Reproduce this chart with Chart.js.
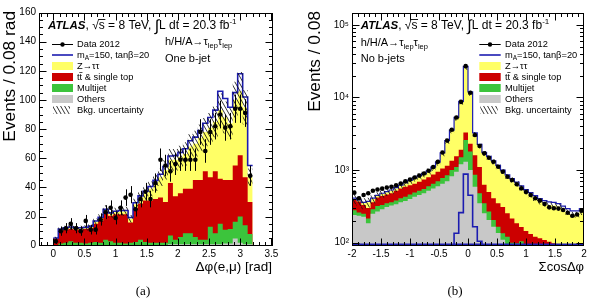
<!DOCTYPE html>
<html><head><meta charset="utf-8">
<script src="https://cdn.jsdelivr.net/npm/chart.js@4.4.0/dist/chart.umd.min.js"></script>
<style>
html,body{margin:0;padding:0;background:#fff;}
#wrap{position:relative;width:591px;height:299px;overflow:hidden;background:#fff;}
.pane{position:absolute;top:0;height:299px;}
#pa{left:0;width:295px;}
#pb{left:295px;width:296px;}
</style></head><body>
<div id="wrap">
<div class="pane" id="pa"><canvas id="ca"></canvas></div>
<div class="pane" id="pb"><canvas id="cb"></canvas></div>
</div>
<script>
// ================= Panel (a): delta-phi(e,mu), one b-jet =================
const binLoA = 0, binWA = 0.08;
const dataA     = [3,10,12,15,12,10,17,11,11,18,23,26,19,26,33,35,25,32,37,32,43,59,55,51,56,59,59,59,59,78,65,78,82,90,81,82,94,94,91,48];
const errA      = [1.7,3.2,3.5,3.9,3.5,3.2,4.1,3.3,3.3,4.2,4.8,5.1,4.4,5.1,5.7,5.9,5.0,5.7,6.1,5.7,6.6,7.7,7.4,7.1,7.5,7.7,7.7,7.7,7.7,8.8,8.1,8.8,9.1,9.5,9.0,9.1,9.7,9.7,9.5,6.9];
// cumulative stack tops (Others < Multijet < ttbar < Z->tautau)
const zttTopA   = [5.3,11.2,12,12.5,11.8,12,12.3,13,16.5,19,24.5,22,23,23.5,23.5,18.5,28.5,33,36,39,43,47,52,59,59,61,63,68,70,74,78,81,85,93,88,84,100,106,95,47];
const ttbarTopA = [5,10.5,11,11.5,11,11,11.5,12,15,17,23,20.5,21.5,21.5,21.5,16,26,29,31,31,32,33,30,43,34,36,39,39,45,45,51,47,51,46,45,45,55,62,47,30];
const mjTopA    = [0.5,1.5,2,3,2,2,1.5,2,2.5,2,4,3,2,2,1.5,2,2.5,4,2.5,2,2,2,2,7,4,6,8.5,8.5,6,4,4,13,8.5,15,11,11.5,16.5,20,14,8];
const othTopA   = [0,0.5,0.5,0.5,0.5,0.5,0.5,0.5,0.5,0.5,0.5,0.5,0.5,0.5,0.5,0.5,0.5,0.5,0.5,0.5,0.5,0.5,0.5,1,1,1,1,1,1,1,1,1,1,1,1.5,1.5,5,2,1,1];
const signalA   = [0,0.2,0.3,0.3,0.3,0.3,0.3,0.4,0.4,0.5,0.5,0.5,0.6,0.6,0.7,0.8,1,1.2,1.4,1.6,1.8,2,2.3,2.5,2.8,3,3.5,4,4.5,5,6,7,8,13,13,11,5,12,7,8];
const uncA      = [0.8,1.6,1.7,1.8,1.7,1.7,1.8,1.8,2.2,2.6,3.3,2.9,3.1,3.2,3.2,2.6,3.7,4.3,4.7,5.0,5.5,6.0,6.6,7.4,7.4,7.6,7.9,8.5,8.8,9.2,9.7,10.1,10.6,11.5,11,10.5,12.5,13.2,11.8,6];
const xTicksA = [0,0.5,1,1.5,2,2.5,3,3.5];
const yTicksA = [0,20,40,60,80,100,120,140,160];

// ================= Panel (b): sum cos delta-phi, no b-jets =================
const binLoB = -2, binWB = 0.08;
const dataB     = [489,409,454,480,520,540,555,575,590,620,655,700,740,790,840,900,980,1100,1300,1750,2550,3600,5300,8700,27000,11600,3040,2150,1700,1480,1306,1114,951,811,731,640,561,500,454,409,380,341,307,298,295,282,259,235,245,275];
const zttTopB   = [400,380,350,360,400,440,470,495,520,560,610,660,710,770,820,880,960,1080,1270,1700,2500,3500,5200,8600,26000,11500,3100,2150,1700,1500,1300,1120,960,820,730,650,570,505,455,410,370,345,330,325,315,290,265,245,245,265];
const ttbarTopB = [390,370,330,300,360,420,440,460,480,520,560,590,620,650,690,740,800,870,950,1050,1150,1350,1550,1900,3300,2300,1600,1100,630,500,410,350,310,255,215,185,165,145,132,121,115,109,103,98,95,93,91,89,88,86];
const mjTopB    = [280,260,250,215,290,320,330,350,360,380,410,430,460,490,520,550,600,650,700,780,850,1000,1100,1500,2600,1800,860,480,350,270,205,166,135,121,100,98,105,95,80,80,80,80,80,80,80,80,80,80,80,80];
const othTopB   = [240,235,228,185,250,270,290,310,325,340,360,375,400,430,455,480,520,560,600,650,700,820,950,1200,1300,1000,590,350,254,205,166,136,110,95,85,80,80,80,80,80,80,80,80,80,80,80,80,80,80,80];
const signalB   = [10,10,10,10,10,10,10,12,12,12,12,12,14,14,15,16,18,20,22,30,40,60,135,260,880,450,166,105,60,50,45,40,40,40,35,35,35,35,35,35,35,35,35,35,30,30,30,30,30,30];
const uncB      = [60,60,60,55,55,55,55,55,55,58,62,66,70,75,80,85,92,100,115,150,210,290,420,680,2000,900,250,170,135,120,105,90,78,67,60,54,48,43,39,35,33,31,29,28,27,26,25,23,23,25];
const xTicksB = [-2,-1.5,-1,-0.5,0,0.5,1,1.5,2];
const yTicksB = [100,1000,10000,100000];
const yTickLabelsB = ['10\u00B2','10\u00B3','10\u2074','10\u2075'];

// ================= styling =================
const SANS = '"Liberation Sans", Arial, Helvetica, sans-serif';
const SERIF = '"Liberation Serif", "DejaVu Serif", serif';
const C_ZTT = '#ffff66', C_TT = '#cc0000', C_MJ = '#3cc43c', C_OTH = '#c8c8c8', C_SIG = '#1c1cb0';

function hatchPattern() {
  const c = document.createElement('canvas'); const w = 4, h = 7; c.width = w; c.height = h;
  const g = c.getContext('2d'); g.strokeStyle = 'rgba(15,15,15,1)'; g.lineWidth = 0.85;
  g.beginPath(); for (const o of [-w, 0, w]) { g.moveTo(o, 0); g.lineTo(o + w, h); } g.stroke();
  return g.createPattern(c, 'repeat');
}
const HATCH = hatchPattern();

function stepPts(lo, w, vals) {
  const p = vals.map((v, i) => ({x: lo + i * w, y: v}));
  p.push({x: lo + vals.length * w, y: vals[vals.length - 1]});
  return p;
}
function ctrPts(lo, w, vals) { return vals.map((v, i) => ({x: lo + (i + 0.5) * w, y: v})); }

function layerDS(pts, color, order) {
  return {data: pts, stepped: true, fill: 'start', backgroundColor: color, borderWidth: 0,
          borderColor: 'rgba(0,0,0,0)', pointRadius: 0, order};
}

const framePlugin = {
  id: 'frame',
  afterDraw(chart, args, o) {
    const {ctx, chartArea: a} = chart; const xs = chart.scales.x, ys = chart.scales.y;
    const L = Math.round(a.left) + 0.5, R = Math.round(a.right) - 0.5, T = Math.round(a.top) + 0.5, B = Math.round(a.bottom) - 0.5;
    ctx.save();
    if (o.blueBottom) { ctx.strokeStyle = C_SIG; ctx.lineWidth = 1.6; ctx.beginPath(); ctx.moveTo(L, B - 1.3); ctx.lineTo(R, B - 1.3); ctx.stroke(); }
    ctx.strokeStyle = '#000'; ctx.lineWidth = 1;
    ctx.strokeRect(L, T, R - L, B - T);
    ctx.beginPath();
    const xt = (v, len) => { const p = Math.round(xs.getPixelForValue(v)) + 0.5; if (p < L - 0.1 || p > R + 0.1) return; ctx.moveTo(p, B); ctx.lineTo(p, B - len); ctx.moveTo(p, T); ctx.lineTo(p, T + len); };
    const yt = (v, len) => { const p = Math.round(ys.getPixelForValue(v)) + 0.5; if (p < T - 0.1 || p > B + 0.1) return; ctx.moveTo(L, p); ctx.lineTo(L + len, p); ctx.moveTo(R, p); ctx.lineTo(R - len, p); };
    o.xMinor.forEach(v => xt(v, 3.5)); o.xMajor.forEach(v => xt(v, 7));
    o.yMinor.forEach(v => yt(v, 3.5)); o.yMajor.forEach(v => yt(v, 7));
    ctx.stroke(); ctx.restore();
  }
};

const errPlugin = {
  id: 'errbars',
  afterDatasetsDraw(chart, args, o) {
    if (!o.vals) return;
    const {ctx} = chart; const xs = chart.scales.x, ys = chart.scales.y;
    ctx.save(); ctx.strokeStyle = '#000'; ctx.lineWidth = 1; ctx.beginPath();
    o.vals.forEach((v, i) => {
      const px = Math.round(xs.getPixelForValue(o.lo + (i + 0.5) * o.w)) + 0.5;
      ctx.moveTo(px, ys.getPixelForValue(v - o.errs[i])); ctx.lineTo(px, ys.getPixelForValue(v + o.errs[i]));
    });
    ctx.stroke(); ctx.restore();
  }
};

function runs(ctx, x, y, parts) {
  for (const p of parts) { ctx.font = p.f; ctx.fillText(p.t, x, y + (p.dy || 0)); x += ctx.measureText(p.t).width; }
  return x;
}
function atlasLine(ctx, x, y) {
  const F = '12px ' + SANS;
  x = runs(ctx, x, y, [{t: 'ATLAS', f: 'italic bold 11.5px ' + SANS}, {t: ', ', f: F}]);
  ctx.font = F; ctx.fillText('\u221A', x, y); const wr = ctx.measureText('\u221A').width;
  ctx.fillText('s', x + wr, y); const ws = ctx.measureText('s').width;
  ctx.fillRect(x + wr - 0.6, y - 10.2, ws + 1.2, 0.9);
  x = x + wr + ws;
  runs(ctx, x, y, [{t: ' = 8 TeV, ', f: F}, {t: '\u222B', f: '16px ' + SANS, dy: 2}, {t: 'L dt = 20.3 fb', f: F}, {t: '-1', f: '8px ' + SANS, dy: -5}]);
}
function procLine(ctx, x, y) {
  const F = '11px ' + SANS, S = '7.5px ' + SANS;
  runs(ctx, x, y, [{t: 'h/H/A\u2192\u03C4', f: F}, {t: 'lep', f: S, dy: 2.5}, {t: '\u03C4', f: F}, {t: 'lep', f: S, dy: 2.5}]);
}
function legendBlock(ctx, m0, m1, tx, y0) {
  const F = '9.3px ' + SANS, dy = 11, off = 3.3;
  const rows = [0, 1, 2, 3, 4, 5, 6].map(k => y0 + k * dy);
  ctx.fillStyle = '#000'; ctx.strokeStyle = '#000'; ctx.lineWidth = 1;
  ctx.beginPath(); ctx.moveTo(m0, Math.round(rows[0]) + 0.5); ctx.lineTo(m1, Math.round(rows[0]) + 0.5); ctx.stroke();
  ctx.beginPath(); ctx.arc((m0 + m1) / 2, rows[0] + 0.5, 2.2, 0, Math.PI * 2); ctx.fill();
  ctx.strokeStyle = C_SIG; ctx.lineWidth = 1.6; ctx.beginPath(); ctx.moveTo(m0, rows[1]); ctx.lineTo(m1, rows[1]); ctx.stroke();
  [[C_ZTT, 2], [C_TT, 3], [C_MJ, 4], [C_OTH, 5]].forEach(([c, k]) => { ctx.fillStyle = c; ctx.fillRect(m0, rows[k] - 4, m1 - m0, 8); });
  ctx.fillStyle = HATCH; ctx.fillRect(m0 + 1, rows[6] - 4, m1 - m0 - 4, 8);
  ctx.fillStyle = '#000';
  runs(ctx, tx, rows[0] + off, [{t: 'Data 2012', f: F}]);
  runs(ctx, tx, rows[1] + off, [{t: 'm', f: F}, {t: 'A', f: '6.5px ' + SANS, dy: 2}, {t: '=150, tan\u03B2=20', f: F}]);
  runs(ctx, tx, rows[2] + off, [{t: 'Z\u2192\u03C4\u03C4', f: F}]);
  ctx.font = F; ctx.fillText('t', tx, rows[3] + off); const wt = ctx.measureText('t').width;
  ctx.fillText('t', tx + wt, rows[3] + off); ctx.fillRect(tx + wt - 0.3, rows[3] + off - 8.2, wt + 0.6, 0.7);
  ctx.fillText(' & single top', tx + 2 * wt, rows[3] + off);
  runs(ctx, tx, rows[4] + off, [{t: 'Multijet', f: F}]);
  runs(ctx, tx, rows[5] + off, [{t: 'Others', f: F}]);
  runs(ctx, tx, rows[6] + off, [{t: 'Bkg. uncertainty', f: F}]);
}
function yTitle(ctx, x, yEnd, text, size) {
  ctx.save(); ctx.translate(x, yEnd); ctx.rotate(-Math.PI / 2); ctx.textAlign = 'right';
  ctx.font = size + 'px ' + SANS; ctx.fillStyle = '#000'; ctx.fillText(text, 0, 0); ctx.restore();
}

const textA = {
  id: 'textA',
  afterDraw(chart) {
    const ctx = chart.ctx; ctx.save(); ctx.fillStyle = '#000'; ctx.textBaseline = 'alphabetic';
    atlasLine(ctx, 48, 29.3);
    procLine(ctx, 165, 45);
    ctx.font = '11px ' + SANS; ctx.fillText('One b-jet', 165, 62);
    legendBlock(ctx, 52, 73, 77, 44);
    ctx.fillStyle = '#000'; ctx.font = '13.5px ' + SANS; ctx.textAlign = 'right'; ctx.fillText('\u0394\u03C6(e,\u03BC) [rad]', 272, 271);
    ctx.textAlign = 'center'; ctx.font = '13px ' + SERIF; ctx.fillText('(a)', 143, 295);
    yTitle(ctx, 14.5, 11, 'Events / 0.08 rad', 17.3);
    ctx.restore();
  }
};
const textB = {
  id: 'textB',
  afterDraw(chart) {
    const ctx = chart.ctx; ctx.save(); ctx.fillStyle = '#000'; ctx.textBaseline = 'alphabetic';
    atlasLine(ctx, 65.7, 29.3);
    procLine(ctx, 65.7, 46);
    ctx.font = '11px ' + SANS; ctx.fillText('No b-jets', 65.7, 62);
    legendBlock(ctx, 184.3, 205.7, 210, 44);
    ctx.fillStyle = '#000'; ctx.font = '13px ' + SANS; ctx.textAlign = 'right'; ctx.fillText('\u03A3cos\u0394\u03C6', 289, 270.5);
    ctx.textAlign = 'center'; ctx.font = '13px ' + SERIF; ctx.fillText('(b)', 160, 295);
    yTitle(ctx, 25, 11, 'Events / 0.08', 17.3);
    ctx.restore();
  }
};

function range(a, b, s) { const r = []; for (let v = a; v <= b + 1e-9; v += s) r.push(Math.round(v * 1000) / 1000); return r; }

function build(canvas, P) {
  const totalPlusSig = P.ztt.map((v, i) => v + P.sig[i]);
  const sigLine = P.sigStacked ? totalPlusSig : P.sig;
  const datasets = [
    {data: ctrPts(P.lo, P.w, P.data), showLine: false, pointRadius: 2.3, pointBackgroundColor: '#000', pointBorderWidth: 0, order: 0},
    {data: stepPts(P.lo, P.w, P.ztt.map((v, i) => v + P.unc[i])), stepped: true, fill: '+1', backgroundColor: HATCH, borderWidth: 0, borderColor: 'rgba(0,0,0,0)', pointRadius: 0, order: 1},
    {data: stepPts(P.lo, P.w, P.ztt.map((v, i) => Math.max(v - P.unc[i], P.floor))), stepped: true, fill: false, borderWidth: 0, borderColor: 'rgba(0,0,0,0)', pointRadius: 0, order: 1},
    {data: stepPts(P.lo, P.w, sigLine), stepped: true, fill: false, borderColor: C_SIG, borderWidth: 1.6, pointRadius: 0, order: 2},
    layerDS(stepPts(P.lo, P.w, P.oth), C_OTH, 4),
    layerDS(stepPts(P.lo, P.w, P.mj), C_MJ, 5),
    layerDS(stepPts(P.lo, P.w, P.tt), C_TT, 6),
    layerDS(stepPts(P.lo, P.w, P.ztt), C_ZTT, 7)
  ];
  if (P.extraStack) datasets.push({data: stepPts(P.lo, P.w, totalPlusSig), stepped: true, fill: false, borderColor: C_SIG, borderWidth: 1.2, pointRadius: 0, order: 3});
  return new Chart(canvas, {
    type: 'line',
    data: {datasets},
    options: {
      responsive: true, maintainAspectRatio: false, animation: false, devicePixelRatio: 1, events: [],
      layout: {padding: {top: 12.5, right: P.padR, left: 0, bottom: 0}},
      plugins: {legend: {display: false}, tooltip: {enabled: false},
        frame: {xMajor: P.xTicks, xMinor: P.xMinor, yMajor: P.yTicks, yMinor: P.yMinor, blueBottom: P.blueBottom},
        errbars: P.err ? {lo: P.lo, w: P.w, vals: P.data, errs: P.err} : {}},
      scales: {
        x: {type: 'linear', min: P.xmin, max: P.xmax,
            afterBuildTicks: s => { s.ticks = P.xTicks.map(v => ({value: v})); },
            afterFit: s => { s.height = 53.3; },
            ticks: {font: {family: SANS, size: 10}, color: '#000', padding: 3, maxRotation: 0, autoSkip: false, callback: v => String(v)},
            grid: {display: false, drawTicks: false}, border: {display: false}},
        y: {type: P.ylog ? 'logarithmic' : 'linear', min: P.ymin, max: P.ymax,
            afterBuildTicks: s => { s.ticks = P.yTicks.map(v => ({value: v})); },
            afterFit: s => { s.width = P.yW; },
            ticks: {font: {family: SANS, size: 10}, color: '#000', padding: 3, autoSkip: false,
                    callback: (v, i) => P.yLabels ? P.yLabels[i] : String(v)},
            grid: {display: false, drawTicks: false}, border: {display: false}}
      }
    },
    plugins: [errPlugin, framePlugin, P.textPlugin]
  });
}

const logMinor = []; [10, 100, 1000, 10000, 100000].forEach(d => { for (let m = 2; m <= 9; m++) logMinor.push(d * m); });

build(document.getElementById('ca'), {
  lo: binLoA, w: binWA, data: dataA, err: errA, ztt: zttTopA, tt: ttbarTopA, mj: mjTopA, oth: othTopA,
  sig: signalA, sigStacked: true, unc: uncA, floor: 0,
  xmin: -0.23, xmax: 3.522, ymin: 0, ymax: 160, ylog: false, yW: 39, padR: 22.3,
  xTicks: xTicksA, xMinor: range(-0.2, 3.5, 0.1), yTicks: yTicksA, yMinor: range(0, 160, 5),
  textPlugin: textA
});
build(document.getElementById('cb'), {
  lo: binLoB, w: binWB, data: dataB, err: null, ztt: zttTopB, tt: ttbarTopB, mj: mjTopB, oth: othTopB,
  sig: signalB, sigStacked: false, extraStack: true, unc: uncB, floor: 1,
  xmin: -2, xmax: 2, ymin: 91, ymax: 148000, ylog: true, yW: 57, padR: 7,
  xTicks: xTicksB, xMinor: range(-2, 2, 0.1), yTicks: yTicksB, yLabels: yTickLabelsB, yMinor: logMinor, blueBottom: true,
  textPlugin: textB
});
</script>
</body></html>
